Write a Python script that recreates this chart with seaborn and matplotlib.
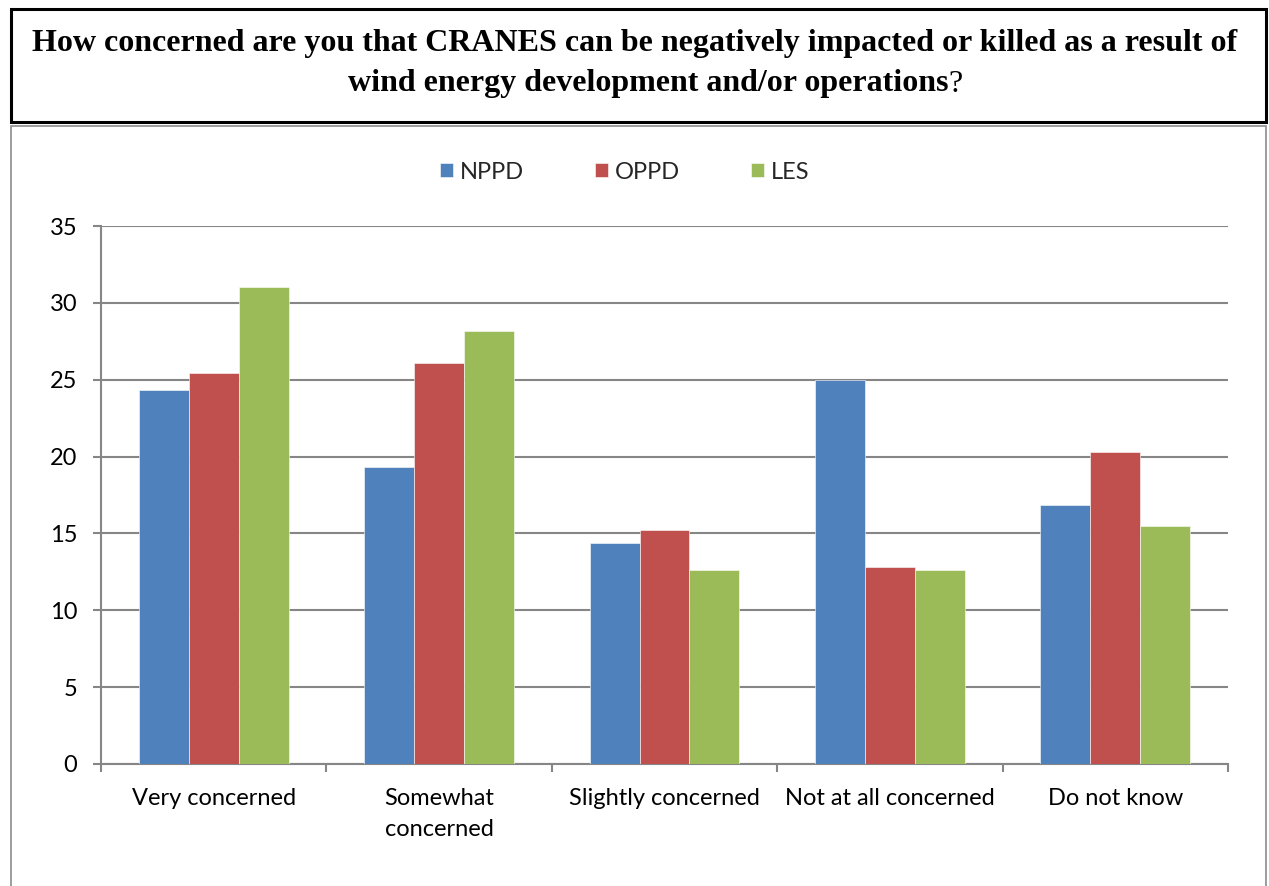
import pandas as pd
import matplotlib.pyplot as plt
import matplotlib.patches as mpatches
import seaborn as sns

# survey answers and percentages per utility
categories = ['Very concerned', 'Somewhat\nconcerned', 'Slightly concerned', 'Not at all concerned', 'Do not know']
series = ['NPPD', 'OPPD', 'LES']
nppd = [24.3, 19.3, 14.35, 25.0, 16.85]
oppd = [25.45, 26.1, 15.2, 12.8, 20.3]
les = [31.0, 28.15, 12.6, 12.6, 15.5]
colors = ['#4F81BD', '#C0504D', '#9BBB59']
yticks = [0, 5, 10, 15, 20, 25, 30, 35]

rows = []
for name, vals in zip(series, [nppd, oppd, les]):
    for cat, v in zip(categories, vals):
        rows.append({'Answer': cat, 'Utility': name, 'Percent': v})
data = pd.DataFrame(rows)

sns.set_style('white')
plt.rcParams['font.family'] = ['Lato', 'DejaVu Sans']

fig = plt.figure(figsize=(12.69, 8.86), dpi=100)
W, H = 1269, 886
ax = fig.add_axes([101 / W, 1 - 764 / H, 1127 / W, 538 / H])

#boxes around title and chart
fig.patches.append(mpatches.Rectangle((11 / W, 1 - 122 / H), 1255 / W, 113 / H, transform=fig.transFigure,
                                      fill=False, edgecolor='black', linewidth=2.2, zorder=0))
fig.patches.append(mpatches.Rectangle((11 / W, -0.01), 1255 / W, 1 - 126 / H + 0.01, transform=fig.transFigure,
                                      fill=False, edgecolor='#8C8C8C', linewidth=1.2, zorder=0))

sns.barplot(data=data, x='Answer', y='Percent', hue='Utility', palette=colors, width=0.665,
            saturation=1, ax=ax, zorder=3, edgecolor='white', linewidth=0.4)

ax.set_xlim(-0.5, len(categories) - 0.5)
ax.set_ylim(0, 35)
ax.set_yticks(yticks)
ax.yaxis.grid(True, color='#868686', linewidth=1.5, zorder=0)
ax.set_axisbelow(True)
ax.set_xlabel('')
ax.set_ylabel('')
for s in ['top', 'right']:
    ax.spines[s].set_visible(False)
for s in ['left', 'bottom']:
    ax.spines[s].set_color('#868686')
    ax.spines[s].set_linewidth(1.5)

ax.tick_params(axis='y', which='major', left=True, length=6, width=1.5, color='#868686',
               pad=11, labelsize=17, labelcolor='black')
ax.tick_params(axis='x', which='major', length=0, pad=17, labelsize=17, labelcolor='black')
ax.set_xticks([i - 0.5 for i in range(len(categories) + 1)], minor=True)
ax.tick_params(axis='x', which='minor', bottom=True, length=6, width=1.5, color='#868686')
for lbl in ax.get_xticklabels():
    lbl.set_verticalalignment('top')
    lbl.set_linespacing(1.6)

# legend across the top
ax.legend(loc='center', bbox_to_anchor=((625 - 101) / 1127, 1 + (226 - 172) / 538), ncol=3, frameon=False,
          fontsize=17, handlelength=0.55, handleheight=0.55, handletextpad=0.3, columnspacing=3.0)

# title: bold question with plain question mark
fig.text(0.5, 1 - 44 / H, 'How concerned are you that CRANES can be negatively impacted or killed as a result of',
         ha='center', va='center', fontsize=23, fontweight='bold', family='Liberation Serif', color='black')
t2 = fig.text(948 / W, 1 - 84 / H, 'wind energy development and/or operations',
              ha='right', va='center', fontsize=23, fontweight='bold', family='Liberation Serif', color='black')
ax.annotate('?', xy=(1, 0), xycoords=t2, va='bottom', ha='left', fontsize=23,
            family='Liberation Serif', color='black')

fig.savefig('out.png', dpi=100)
